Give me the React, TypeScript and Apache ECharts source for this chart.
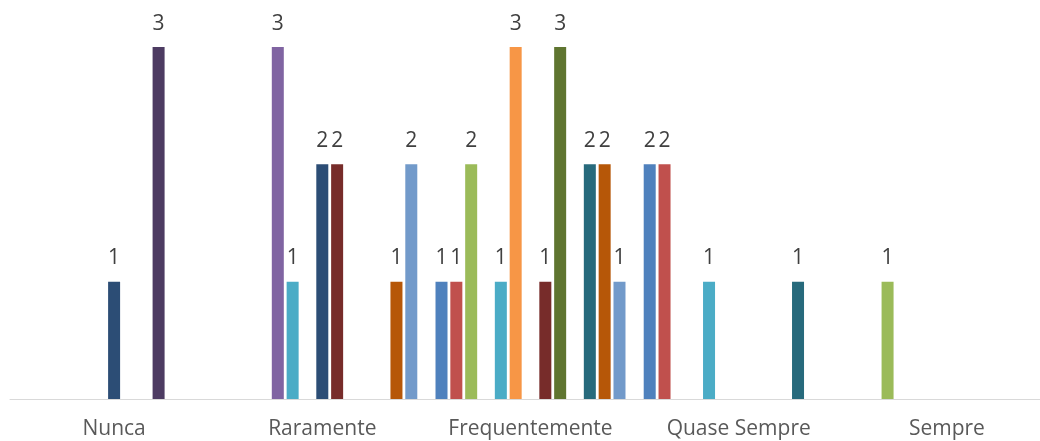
import React, { useEffect, useRef } from "react";
import * as echarts from "echarts";

const categories = ["Nunca", "Raramente", "Frequentemente", "Quase Sempre", "Sempre"];

const seriesColors = [
  "#4F81BD", "#C0504D", "#9BBB59", "#8064A2", "#4BACC6", "#F79646",
  "#2C4D75", "#772C2A", "#5F7530", "#4D3B62", "#276A7C", "#B65708", "#729ACA",
];

const s1 = [null, null, 1, 2, null];
const s2 = [null, null, 1, 2, null];
const s3 = [null, null, 2, null, 1];
const s4 = [null, 3, null, null, null];
const s5 = [null, 1, 1, 1, null];
const s6 = [null, null, 3, null, null];
const s7 = [1, 2, null, null, null];
const s8 = [null, 2, 1, null, null];
const s9 = [null, null, 3, null, null];
const s10 = [3, null, null, null, null];
const s11 = [null, null, 2, 1, null];
const s12 = [null, 1, 2, null, null];
const s13 = [null, 2, 1, null, null];

const seriesData = [s1, s2, s3, s4, s5, s6, s7, s8, s9, s10, s11, s12, s13];

export default function App() {
  const ref = useRef<HTMLDivElement>(null);
  useEffect(() => {
    if (!ref.current) return;
    const chart = echarts.init(ref.current, undefined, { renderer: "svg" });
    chart.setOption({
      animation: false,
      grid: { left: 10, top: 47, bottom: 42, right: 9 },
      xAxis: {
        type: "category",
        data: categories,
        axisLine: { lineStyle: { color: "#D9D9D9", width: 1 } },
        axisTick: { show: false },
        axisLabel: {
          color: "#595959",
          fontSize: 21,
          fontFamily: "Open Sans",
          margin: 17,
          interval: 0,
        },
      },
      yAxis: {
        type: "value",
        min: 0,
        max: 3,
        show: false,
        splitLine: { show: false },
      },
      series: seriesData.map((d, i) => ({
        type: "bar",
        name: "S" + (i + 1),
        data: d,
        barWidth: 12,
        barGap: "23.6%",
        itemStyle: { color: seriesColors[i] },
        label: {
          show: true,
          position: "top",
          distance: 15,
          color: "#404040",
          fontSize: 21,
          fontFamily: "Open Sans",
        },
      })),
    });
    return () => chart.dispose();
  }, []);
  return (
    <div
      style={{
        position: "fixed",
        left: 0,
        top: 0,
        width: 1040,
        height: 441,
        overflow: "hidden",
      }}
    >
      <div ref={ref} style={{ width: 1060, height: 441 }} />
    </div>
  );
}
